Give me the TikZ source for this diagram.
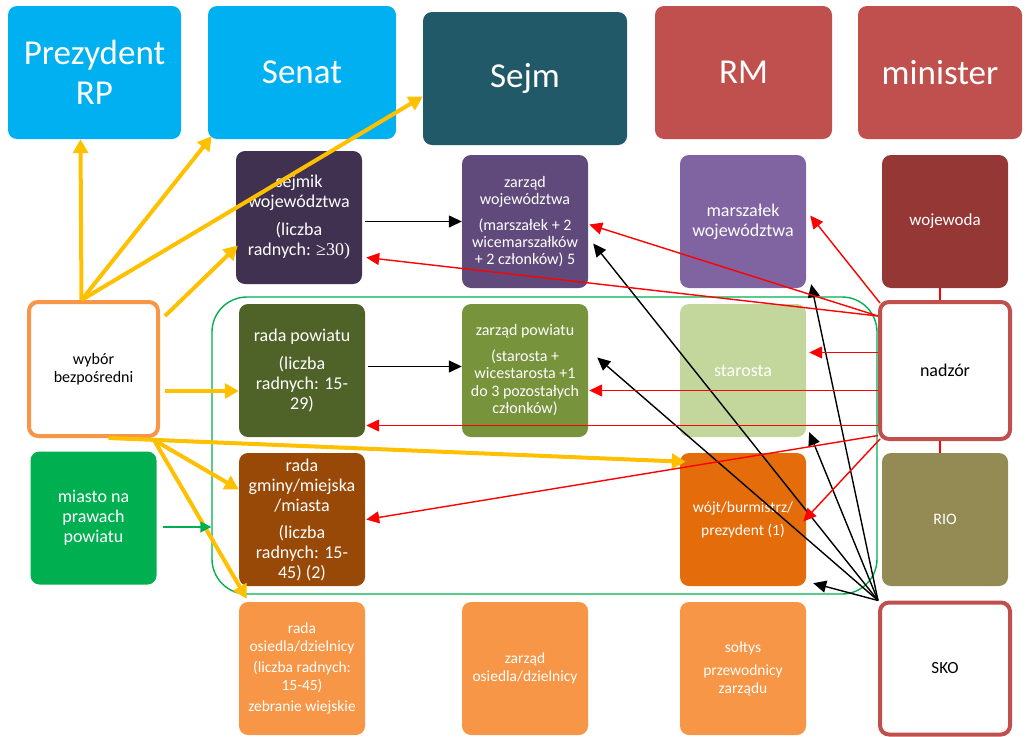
\documentclass[tikz,border=0pt]{standalone}
\usepackage{fontspec}
\setmainfont{Carlito}
\newfontfamily\timesfont{Liberation Serif}
\usetikzlibrary{arrows.meta}
\definecolor{niebieski}{HTML}{00B0F0}
\definecolor{morski}{HTML}{215968}
\definecolor{ceglany}{HTML}{C0504D}
\definecolor{fiolet1}{HTML}{403151}
\definecolor{fiolet2}{HTML}{604A7B}
\definecolor{fiolet3}{HTML}{8064A2}
\definecolor{bordo}{HTML}{953735}
\definecolor{oliwka1}{HTML}{4F6228}
\definecolor{oliwka2}{HTML}{77933C}
\definecolor{oliwka3}{HTML}{C3D69B}
\definecolor{zielony}{HTML}{00B050}
\definecolor{braz}{HTML}{984807}
\definecolor{pomarancz}{HTML}{E46C0A}
\definecolor{jasnypom}{HTML}{F79646}
\definecolor{khaki}{HTML}{948A54}
\definecolor{zolty}{HTML}{FFC000}
\tikzstyle{box} = [rectangle, rounded corners=9pt, align=center, text=white, inner sep=1pt, minimum width=126pt, minimum height=133pt]
\tikzstyle{bigbox} = [box, font=\fontsize{35}{40}\selectfont]
\tikzstyle{framebox} = [box, draw, fill=white, text=black, line width=4pt, minimum width=130pt, minimum height=136pt]
\tikzstyle{yconnector} = [line width=4pt, color=zolty, -{Triangle[length=14pt,width=15pt]}]
\tikzstyle{connector} = [line width=1.4pt, -{Triangle[length=13pt,width=12pt]}]
\tikzstyle{rconnector} = [line width=1.4pt, color=red, -{Triangle[length=13pt,width=12pt]}]

\begin{document}
\begin{tikzpicture}[x=1pt, y=1pt, node distance=149pt]
                \useasboundingbox (0,0) rectangle (1030,-736);
                \node (obszar) [draw=zielony, line width=1.4pt, rounded corners=35pt, minimum width=665pt, minimum height=297pt] at (544.5,-445.5) {};

                \node (prez) [bigbox, fill=niebieski, minimum width=173pt] at (94.5,-72.5) {Prezydent\\RP};
                \node (senat) [bigbox, fill=niebieski, minimum width=188pt] at (302,-72.5) {Senat};
                \node (sejm) [bigbox, fill=morski, minimum width=204pt] at (525,-78.5) {Sejm};
                \node (rm) [bigbox, fill=ceglany, minimum width=177pt] at (743.5,-72.5) {RM};
                \node (minister) [bigbox, fill=ceglany, minimum width=164pt] at (940,-72.5) {minister};

                \node (wybor) [framebox, draw=jasnypom, minimum width=129pt, minimum height=134pt, font=\fontsize{16}{18}\selectfont] at (93.5,-369) {wybór\\bezpośredni};
                \node (radaP) [box, fill=oliwka1, font=\fontsize{18}{20}\selectfont] at (302,-370.5) {rada powiatu\\[8pt](liczba\\radnych: 15-\\29)};
                \node (zarzadP) [box, fill=oliwka2, font=\fontsize{16}{17.5}\selectfont] at (525,-370.5) {zarząd powiatu\\[8pt](starosta +\\wicestarosta +1\\do 3 pozostałych\\członków)};
                \node (star) [box, fill=oliwka3, font=\fontsize{18}{20}\selectfont] at (743,-370.5) {starosta};
                \node (nadzor) [framebox, draw=ceglany, minimum height=137pt, font=\fontsize{18}{20}\selectfont] at (945,-370.5) {nadzór};

                \node (sejmik) [box, fill=fiolet1, above of=radaP, xshift=-3pt, yshift=4pt, font=\fontsize{18}{20}\selectfont] {sejmik\\województwa\\[8pt](liczba\\radnych: {\timesfont ≥30)}};
                \node (zarzadW) [box, fill=fiolet2, above of=zarzadP, font=\fontsize{16}{17}\selectfont] {zarząd\\województwa\\[9pt](marszałek + 2\\wicemarszałków\\+ 2 członków) 5};
                \node (marsz) [box, fill=fiolet3, above of=star, font=\fontsize{18}{20}\selectfont] {marszałek\\województwa};
                \node (wojew) [box, fill=bordo, above of=nadzor, font=\fontsize{17}{20}\selectfont] {wojewoda};

                \node (miasto) [box, fill=zielony, below of=wybor, font=\fontsize{18}{20}\selectfont] {miasto na\\prawach\\powiatu};
                \node (radaG) [box, fill=braz, below of=radaP, font=\fontsize{18}{20}\selectfont] {rada\\gminy/miejska\\/miasta\\[7pt](liczba\\radnych: 15-\\45) (2)};
                \node (wojt) [box, fill=pomarancz, below of=star, font=\fontsize{15.5}{17}\selectfont] {wójt/burmistrz/\\[6pt]prezydent (1)};
                \node (rio) [box, fill=khaki, below of=nadzor, font=\fontsize{16}{18}\selectfont] {RIO};

                \node (radaO) [box, fill=jasnypom, below of=radaG, font=\fontsize{15.5}{18}\selectfont] {rada\\osiedla/dzielnicy\\[3pt](liczba radnych:\\15-45)\\[3pt]zebranie wiejskie};
                \node (zarzadO) [box, fill=jasnypom, below of=zarzadP, yshift=-149pt, font=\fontsize{15.5}{18}\selectfont] {zarząd\\osiedla/dzielnicy};
                \node (soltys) [box, fill=jasnypom, below of=wojt, font=\fontsize{15.5}{18}\selectfont] {sołtys\\[5pt]przewodnicy\\zarządu};
                \node (sko) [framebox, draw=ceglany, below of=rio, minimum height=132pt, font=\fontsize{17}{18}\selectfont] {SKO};

                \draw [yconnector] ([xshift=-12pt]wybor.north) -- ([xshift=-14pt]prez.south);
                \draw [yconnector] ([xshift=-12pt]wybor.north) -- ([xshift=4pt,yshift=3pt]senat.south west);
                \draw [yconnector] ([xshift=-12pt]wybor.north) -- ([yshift=-18pt]sejm.west);
                \draw [yconnector] ([xshift=5pt,yshift=-16pt]wybor.north east) -- ([xshift=2pt,yshift=-28pt]sejmik.west);
                \draw [yconnector] ([xshift=5pt,yshift=-22pt]wybor.east) -- ([yshift=-22pt]wybor.east -| radaP.west);
                \draw [yconnector] ([xshift=15pt]wybor.south) -- ([xshift=6pt,yshift=-9pt]wojt.north west);
                \draw [yconnector] ([xshift=-6pt,yshift=-2pt]wybor.south east) -- ([yshift=30pt]radaG.west);
                \draw [yconnector] ([xshift=-6pt,yshift=-2pt]wybor.south east) -- ([xshift=8pt,yshift=3pt]radaO.north west);

                \draw [connector] ([xshift=3pt]sejmik.east |- zarzadW.west) -- (zarzadW.west);
                \draw [connector] ([xshift=3pt,yshift=4pt]radaP.east) -- ([yshift=4pt]zarzadP.west);
                \draw [connector, color=zielony, -{Triangle[length=11pt,width=11pt]}] ([xshift=6pt,yshift=-9pt]miasto.east) -- ([yshift=-9pt]miasto.east -| obszar.west);

                \draw [connector] (sko.north west) -- ([xshift=5pt,yshift=-22pt]zarzadW.east);
                \draw [connector] (sko.north west) -- ([xshift=5pt,yshift=4pt]marsz.south east);
                \draw [connector] (sko.north west) -- ([xshift=9pt,yshift=13pt]zarzadP.east);
                \draw [connector] (sko.north west) -- ([xshift=3pt,yshift=5pt]star.south east);
                \draw [connector] (sko.north west) -- ([xshift=7pt,yshift=3pt]wojt.south east);

                \draw [rconnector] ([xshift=2pt,yshift=-3pt]nadzor.north west) -- ([xshift=4pt,yshift=6pt]marsz.east);
                \draw [rconnector] ([yshift=-16pt]nadzor.north west) -- ([xshift=1pt,yshift=-3pt]zarzadW.east);
                \draw [rconnector] ([yshift=-16pt]nadzor.north west) -- ([xshift=4pt,yshift=-40pt]sejmik.east);
                \draw [rconnector] ([yshift=18pt]nadzor.west) -- ([xshift=3pt,yshift=18pt]nadzor.west -| star.east);
                \draw [rconnector] ([yshift=-20pt]nadzor.west) -- ([xshift=1pt,yshift=-20pt]nadzor.west -| zarzadP.east);
                \draw [rconnector] ([yshift=-55pt]nadzor.west) -- ([xshift=1pt,yshift=-55pt]nadzor.west -| radaP.east);
                \draw [rconnector] ([yshift=-65pt]nadzor.west) -- ([xshift=1pt]radaG.east);
                \draw [rconnector] ([xshift=2pt,yshift=2pt]nadzor.south west) -- ([xshift=-3pt,yshift=-2pt]wojt.east);
                \draw [line width=1.4pt, red] ([xshift=-5pt]wojew.south) -- ([xshift=-5pt]wojew.south |- nadzor.north);
                \draw [line width=1.4pt, red] ([xshift=-5pt]nadzor.south) -- ([xshift=-5pt]nadzor.south |- rio.north);
            \end{tikzpicture}
\end{document}
